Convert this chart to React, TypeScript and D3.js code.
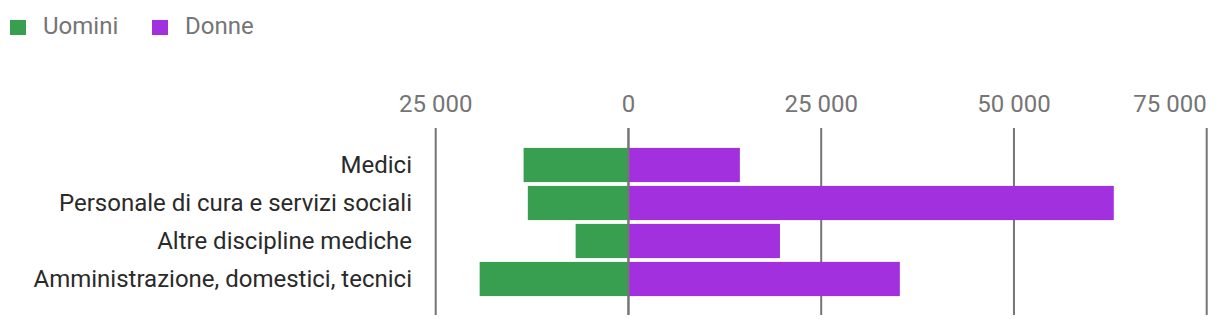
import React from "react";
import * as d3 from "d3";

const categories = [
  "Medici",
  "Personale di cura e servizi sociali",
  "Altre discipline mediche",
  "Amministrazione, domestici, tecnici",
];
const uomini = [13600, 13050, 6850, 19300];
const donne = [14450, 62950, 19650, 35200];
const ticks = [-25000, 0, 25000, 50000, 75000];
const seriesNames = ["Uomini", "Donne"];
const colors = ["#389E50", "#A230DE"];

const W = 1220;
const H = 328;

export default function App() {
  const x = d3.scaleLinear().domain([-25000, 75000]).range([435.7, 1206.7]);
  const y = d3.scaleBand<string>().domain(categories).range([146, 298]).paddingInner(0.1).paddingOuter(0.05);
  const loc = d3.formatLocale({ thousands: " ", grouping: [3], decimal: ",", currency: ["", ""] });
  const fmt = loc.format(",d");
  const font = "Roboto, 'Noto Sans', sans-serif";
  return (
    <svg width={W} height={H} style={{ position: "absolute", left: 0, top: 0 }} fontFamily={font}>
      {/* legend */}
      {seriesNames.map((s, i) => (
        <g key={s} transform={`translate(${10 + i * 142},20)`}>
          <rect width={16} height={15} fill={colors[i]} />
          <text x={33} y={14} fontSize={24} fill="#757575">{s}</text>
        </g>
      ))}
      {/* grid + ticks */}
      {ticks.map((t, i) => (
        <g key={t}>
          <line x1={x(t)} x2={x(t)} y1={128} y2={315} stroke="#757575" strokeWidth={2} />
          <text
            x={i === ticks.length - 1 ? x(t) : x(t)}
            y={112}
            textAnchor={i === ticks.length - 1 ? "end" : "middle"}
            fontSize={24}
            fill="#757575"
          >
            {fmt(Math.abs(t))}
          </text>
        </g>
      ))}
      {/* bars */}
      {categories.map((c, i) => (
        <g key={c}>
          <rect x={x(-uomini[i])} y={y(c)} width={x(0) - x(-uomini[i])} height={y.bandwidth()} fill={colors[0]} />
          <rect x={x(0)} y={y(c)} width={x(donne[i]) - x(0)} height={y.bandwidth()} fill={colors[1]} />
          <text x={412} y={(y(c) as number) + y.bandwidth() / 2} dy="0.35em" textAnchor="end" fontSize={24} fill="#2a2a2a">{c}</text>
        </g>
      ))}
      <line x1={x(0)} x2={x(0)} y1={128} y2={315} stroke="#757575" strokeWidth={2} />
    </svg>
  );
}
